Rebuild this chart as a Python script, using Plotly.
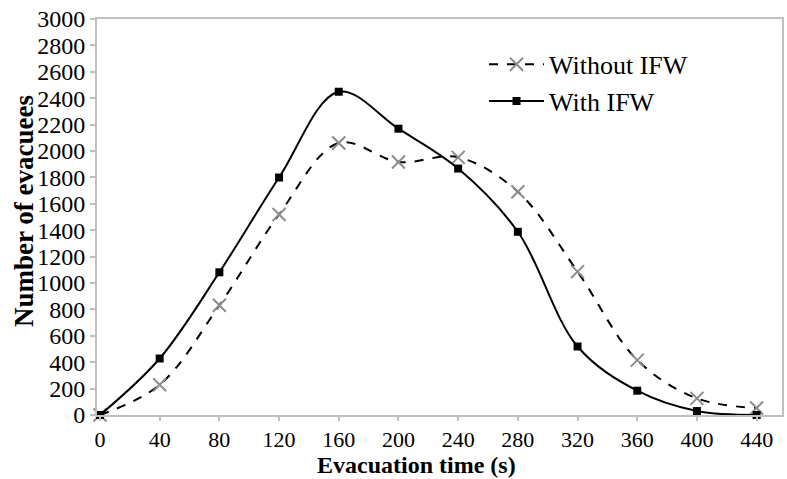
import plotly.graph_objects as go

time_s = [0, 40, 80, 120, 160, 200, 240, 280, 320, 360, 400, 440]
without_ifw = [0, 229, 831, 1519, 2061, 1917, 1952, 1691, 1086, 416, 126, 53]
with_ifw = [0, 428, 1081, 1799, 2449, 2169, 1867, 1388, 519, 184, 30, 0]
x_ticks = [0, 40, 80, 120, 160, 200, 240, 280, 320, 360, 400, 440]
y_ticks = list(range(0, 3001, 200))

font_family = "Liberation Serif"

fig = go.Figure()
fig.add_trace(go.Scatter(
    x=time_s, y=without_ifw, name="Without IFW", mode="lines+markers",
    line=dict(color="black", width=2, dash="dash", shape="spline", smoothing=1),
    marker=dict(symbol="x-thin", size=13, color="#8c8c8c",
                line=dict(color="#8c8c8c", width=2)),
    cliponaxis=False,
))
fig.add_trace(go.Scatter(
    x=time_s, y=with_ifw, name="With IFW", mode="lines+markers",
    line=dict(color="black", width=2, shape="spline", smoothing=1),
    marker=dict(symbol="square", size=8, color="black"),
    cliponaxis=False,
))

axis_common = dict(
    showline=True, linecolor="#c0c0c0", linewidth=2, mirror=True,
    ticks="outside", tickcolor="#c0c0c0", tickwidth=1.5,
    showgrid=False, zeroline=False,
)

fig.update_layout(
    width=787, height=479,
    margin=dict(l=97, r=5, t=19, b=64),
    paper_bgcolor="white", plot_bgcolor="white",
    font=dict(family=font_family, color="black"),
    xaxis=dict(range=[-2, 457], tickvals=x_ticks, ticklen=4,
               tickfont=dict(family=font_family, size=22, color="black"),
               automargin=False, **axis_common),
    yaxis=dict(range=[0, 3000], tickvals=y_ticks, ticklen=5,
               tickfont=dict(family=font_family, size=24, color="black"),
               automargin=False, **axis_common),
    legend=dict(x=0.565, y=0.945, xanchor="left", yanchor="top",
                bgcolor="rgba(0,0,0,0)",
                font=dict(family=font_family, size=26, color="black"),
                tracegroupgap=0, itemwidth=55),
    showlegend=True,
    annotations=[
        dict(text="<b>Evacuation time (s)</b>", xref="paper", yref="paper",
             x=(416 - 97) / 685, y=(415 - 465) / 396,
             xanchor="center", yanchor="middle", showarrow=False,
             borderpad=0,
             font=dict(family=font_family, size=24, color="black")),
        dict(text="<b>Number of evacuees</b>", xref="paper", yref="paper",
             x=(24 - 97) / 685, y=(415 - 211) / 396, textangle=-90,
             xanchor="center", yanchor="middle", showarrow=False,
             font=dict(family=font_family, size=27, color="black")),
    ],
)

fig.write_html(
    "out.html",
    config={"displayModeBar": False},
    post_script="document.body.style.margin='0';document.body.style.overflow='hidden';",
)
